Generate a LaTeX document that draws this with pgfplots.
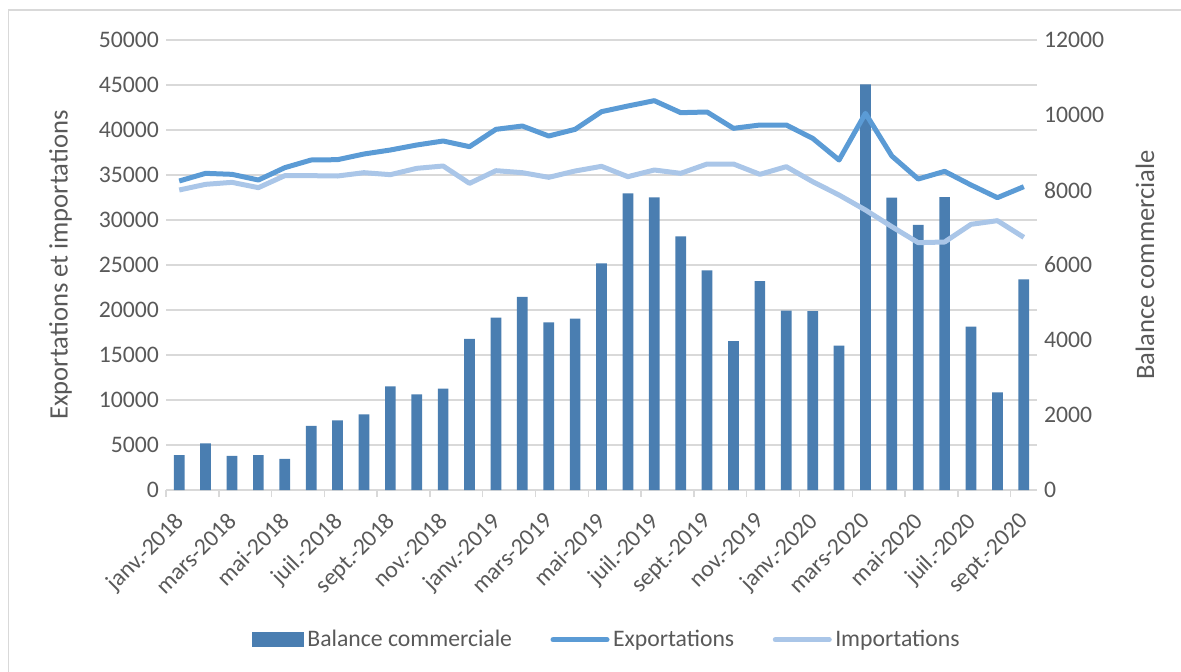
\documentclass[border=0pt]{standalone}
\usepackage{fontspec}
\setmainfont{Carlito}
\usepackage{pgfplots}
\pgfplotsset{compat=1.18}
\definecolor{barc}{RGB}{74,126,177}
\definecolor{expc}{RGB}{91,155,213}
\definecolor{impc}{RGB}{170,198,232}
\definecolor{txt}{RGB}{89,89,89}
\definecolor{gridc}{RGB}{217,217,217}
\pgfplotsset{
 common/.style={
  scale only axis, width=435.5pt, height=225pt,
  at={(83pt,90.5pt)}, anchor=south west,
  xmin=-0.5, xmax=32.5,
  /pgf/number format/assume math mode=true,
  /pgf/number format/set thousands separator={},
  scaled y ticks=false,
  tick label style={font=\fontsize{11.85}{14}\selectfont, text=txt},
  label style={font=\fontsize{13.3}{16}\selectfont, text=txt},
 }
}
\begin{document}
\begin{tikzpicture}
\path[use as bounding box] (0,0) rectangle (590.5pt,335.5pt);
\draw[gridc, line width=0.75pt] (4.2pt,-2pt) rectangle (592pt,330.5pt);
% grid, left axis, x axis
\begin{axis}[common,
  ymin=0, ymax=50000, ytick={0,5000,...,50000},
  axis lines*=left,
  y axis line style={draw=none},
  x axis line style={gridc, line width=0.75pt, -},
  ymajorgrids, grid style={gridc, line width=0.75pt},
  major tick length=0pt,
  minor tick length=3.5pt, tick align=outside,
  xtick={0,2,4,6,8,10,12,14,16,18,20,22,24,26,28,30,32},
  xticklabels={janv.-2018, mars-2018, mai-2018, juil.-2018, sept.-2018, nov.-2018, janv.-2019, mars-2019, mai-2019, juil.-2019, sept.-2019, nov.-2019, janv.-2020, mars-2020, mai-2020, juil.-2020, sept.-2020},
  minor xtick={-0.5,1.5,3.5,5.5,7.5,9.5,11.5,13.5,15.5,17.5,19.5,21.5,23.5,25.5,27.5,29.5,31.5},
  minor x tick style={gridc, line width=0.75pt},
  xticklabel style={xshift=-2.8pt, yshift=-5.6pt, rotate=45, anchor=north east},
  ylabel={Exportations et importations},
  ylabel style={at={(axis description cs:-0.121,0.5)}, anchor=center},
]
\end{axis}
% bars, right axis
\begin{axis}[common,
  ymin=0, ymax=12000, ytick={0,2000,...,12000},
  axis y line*=right, axis x line=none,
  y axis line style={draw=none},
  major tick length=0pt,
  ylabel={Balance commerciale},
  ylabel style={at={(axis description cs:1.124,0.5)}, anchor=center},
  ybar, bar width=5.35pt,
]
\addplot[fill=barc, draw=none] coordinates {
(0,933) (1,1244) (2,907) (3,933) (4,827) (5,1707) (6,1858) (7,2018) (8,2764) (9,2551) (10,2702)
(11,4027) (12,4596) (13,5147) (14,4471) (15,4569) (16,6044) (17,7911) (18,7804) (19,6764) (20,5858)
(21,3973) (22,5573) (23,4782) (24,4773) (25,3849) (26,10818) (27,7796) (28,7067) (29,7813) (30,4356)
(31,2604) (32,5618)};
\end{axis}
% lines
\begin{axis}[common,
  ymin=0, ymax=50000, hide axis,
  legend style={draw=none, fill=none, at={(0.507,-0.333)}, anchor=center,
    legend columns=3, font=\fontsize{11.85}{14}\selectfont, text=txt,
    /tikz/every even column/.append style={column sep=17.5pt},
    nodes={inner sep=1.75pt}},
]
\addlegendimage{legend image code/.code={\fill[barc] (0pt,-3.5pt) rectangle (25.5pt,3.5pt);}}
\addlegendentry{Balance commerciale}
\addplot[expc, line width=2.5pt, line join=round,
  legend image code/.code={\draw[expc,line width=2.5pt,line cap=round] (0pt,0pt) -- (27pt,0pt);}]
coordinates {
(0,34333) (1,35185) (2,35074) (3,34444) (4,35815) (5,36667) (6,36704) (7,37333) (8,37778) (9,38333) (10,38778)
(11,38148) (12,40074) (13,40444) (14,39333) (15,40074) (16,42037) (17,42667) (18,43259) (19,41926) (20,42000)
(21,40185) (22,40556) (23,40556) (24,39074) (25,36667) (26,41852) (27,37111) (28,34556) (29,35407) (30,33889)
(31,32481) (32,33704)};
\addlegendentry{Exportations}
\addplot[impc, line width=2.5pt, line join=round,
  legend image code/.code={\draw[impc,line width=2.5pt,line cap=round] (0pt,0pt) -- (27pt,0pt);}]
coordinates {
(0,33333) (1,33963) (2,34185) (3,33593) (4,34926) (5,34926) (6,34889) (7,35259) (8,35037) (9,35741) (10,36000)
(11,34074) (12,35481) (13,35259) (14,34741) (15,35444) (16,35963) (17,34815) (18,35556) (19,35185) (20,36222)
(21,36222) (22,35074) (23,35926) (24,34259) (25,32778) (26,31111) (27,29259) (28,27481) (29,27556) (30,29519)
(31,29926) (32,28074)};
\addlegendentry{Importations}
\end{axis}
\end{tikzpicture}
\end{document}
